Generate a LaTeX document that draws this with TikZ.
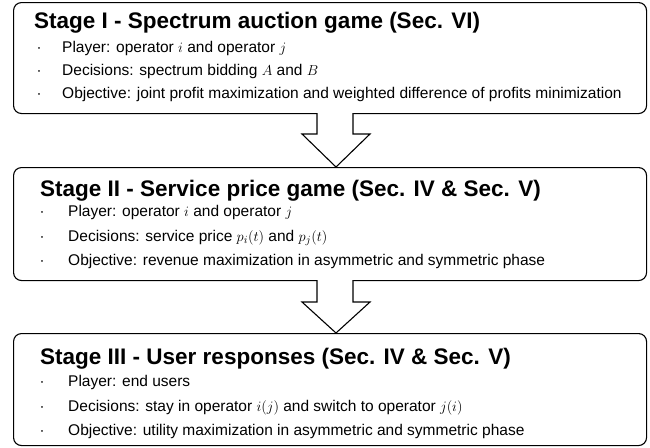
\documentclass[tikz,border=0pt]{standalone}
\usepackage{fontspec}
\setmainfont{Liberation Sans}
\usetikzlibrary{calc}
\tikzset{
  stagebox/.style={draw=black, line width=1.1pt, rounded corners=8pt, fill=white, inner sep=0pt, anchor=north west},
  titletext/.style={anchor=base west, inner sep=0pt, font=\fontsize{22.5}{26}\selectfont\bfseries},
  itemtext/.style={anchor=base west, inner sep=0pt, font=\fontsize{15.5}{18}\selectfont},
  bullettext/.style={anchor=base, inner sep=0pt, font=\fontsize{15}{18}\selectfont},
  bigarrow/.style={draw=black, line width=1.1pt, fill=white, line join=miter}
}
\begin{document}
\begin{tikzpicture}[x=1pt,y=-1pt]
\useasboundingbox (0,0) rectangle (650,447);
% boxes
\node[stagebox, minimum width=633pt, minimum height=111pt] (b1) at (13,2) {};
\node[stagebox, minimum width=633pt, minimum height=113pt] (b2) at (13,167) {};
\node[stagebox, minimum width=633pt, minimum height=112pt] (b3) at (13,333) {};
% arrows
\coordinate (a1) at (336,113);
\coordinate (a2) at (336,280);
\draw[bigarrow] ($(a1)+(-19,0)$) -- ++(0,21) -- ++(-15,0) -- ($(b2.north west)+(323,0)$) -- ($(a1)+(34,21)$) -- ++(-17,0) -- ($(a1)+(17,0)$);
\draw[bigarrow] ($(a2)+(-19,0)$) -- ++(0,22) -- ++(-15,0) -- ($(b3.north west)+(323,0)$) -- ($(a2)+(34,22)$) -- ++(-17,0) -- ($(a2)+(17,0)$);
% Stage I
\node[titletext] (t1) at (34,28) {Stage I - Spectrum auction game (Sec. VI)};
\node[bullettext] (d11) at (39,52) {·};
\node[bullettext] (d12) at (39,75) {·};
\node[bullettext] (d13) at (39,98) {·};
\node[itemtext] (l11) at (62,52) {Player: operator $i$ and operator $j$};
\node[itemtext] (l12) at (62,75) {Decisions: spectrum bidding $A$ and $B$};
\node[itemtext] (l13) at (62,98) {Objective: joint profit maximization and weighted difference of profits minimization};
% Stage II
\node[titletext] (t2) at (40,196) {Stage II - Service price game (Sec. IV \& Sec. V)};
\node[bullettext] (d21) at (42,216) {·};
\node[bullettext] (d22) at (42,241) {·};
\node[bullettext] (d23) at (42,265) {·};
\node[itemtext] (l21) at (68,216) {Player: operator $i$ and operator $j$};
\node[itemtext] (l22) at (68,241) {Decisions: service price $p_i(t)$ and $p_j(t)$};
\node[itemtext] (l23) at (68,265) {Objective: revenue maximization in asymmetric and symmetric phase};
% Stage III
\node[titletext] (t3) at (40,364) {Stage III - User responses (Sec. IV \& Sec. V)};
\node[bullettext] (d31) at (42,386) {·};
\node[bullettext] (d32) at (42,411) {·};
\node[bullettext] (d33) at (42,435) {·};
\node[itemtext] (l31) at (68,386) {Player: end users};
\node[itemtext] (l32) at (68,411) {Decisions: stay in operator $i(j)$ and switch to operator $j(i)$};
\node[itemtext] (l33) at (68,435) {Objective: utility maximization in asymmetric and symmetric phase};
\end{tikzpicture}
\end{document}
